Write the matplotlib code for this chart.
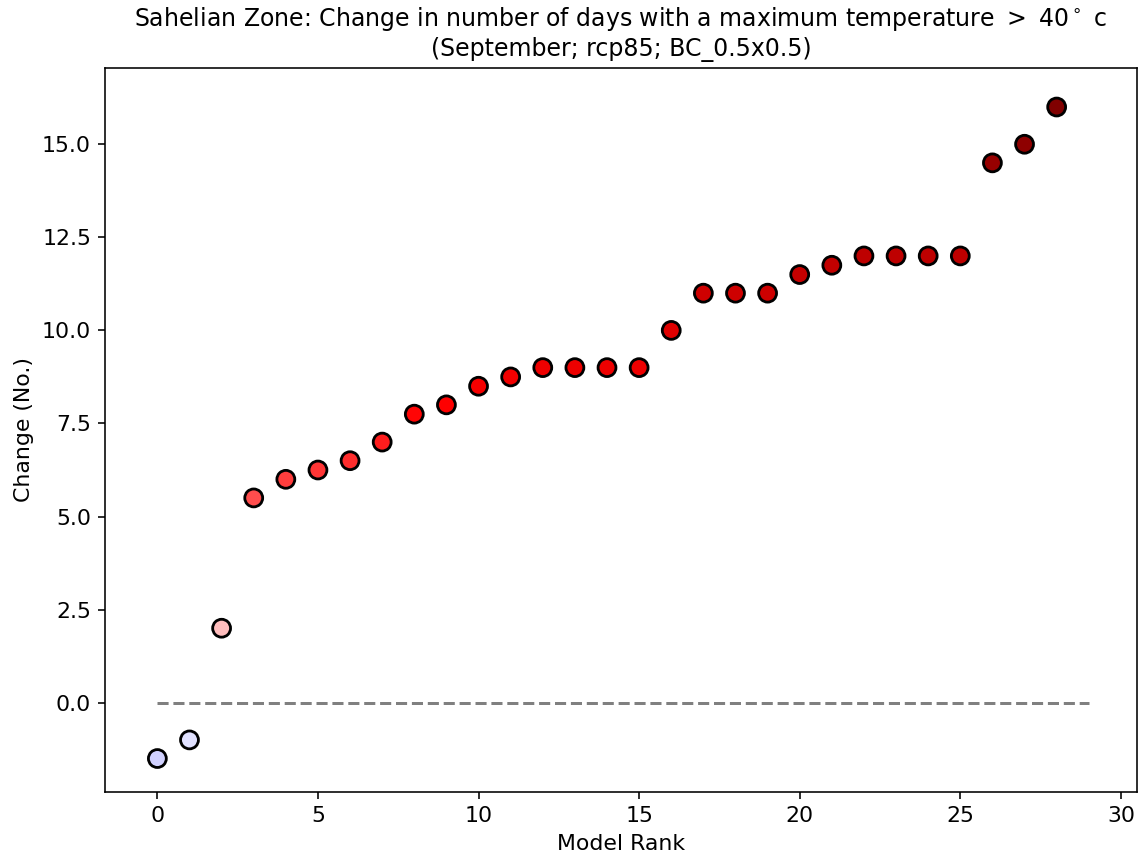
import numpy as np
import matplotlib
matplotlib.use('Agg')
import matplotlib.pyplot as plt

# model ranks and projected change (days > 40 C), sorted
rank = np.arange(29)
change = [-1.5, -1.0, 2.0, 5.5, 6.0, 6.25, 6.5, 7.0, 7.75, 8.0, 8.5, 8.75,
          9.0, 9.0, 9.0, 9.0, 10.0, 11.0, 11.0, 11.0, 11.5, 11.75,
          12.0, 12.0, 12.0, 12.0, 14.5, 15.0, 16.0]

plt.rcParams['font.size'] = 11

fig = plt.figure(figsize=(1139 / 144, 861 / 144), dpi=144)
ax = fig.add_axes([0.0922, 0.0801, 0.906, 0.841])

ax.plot([0, 29], [0, 0], '--', color='grey', lw=1.5, zorder=1)
ax.scatter(rank, change, c=change, cmap='seismic', vmin=-16, vmax=16,
           s=80, edgecolors='k', linewidths=1.4, zorder=2)

ax.set_xlim(-1.63, 30.5)
ax.set_ylim(-2.4, 17.05)
ax.set_yticks([0.0, 2.5, 5.0, 7.5, 10.0, 12.5, 15.0])
ax.set_xlabel('Model Rank')
ax.set_ylabel('Change (No.)')
ax.set_title('Sahelian Zone: Change in number of days with a maximum temperature $>\\ 40^\\circ$ c\n'
             '(September; rcp85; BC_0.5x0.5)', fontsize=11.8)

fig.savefig('out.png', dpi=144)
